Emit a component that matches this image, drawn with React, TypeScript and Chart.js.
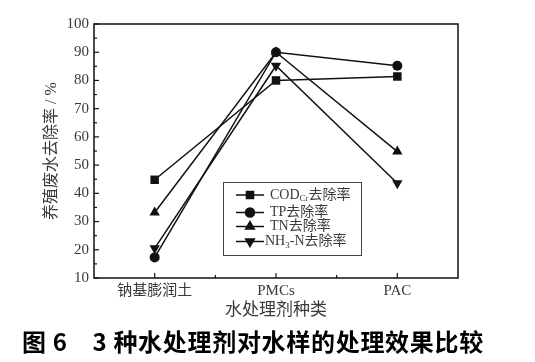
import React, { useEffect, useRef } from 'react';
import { Chart, registerables } from 'chart.js';
import { drawPoint } from 'chart.js/helpers';

Chart.register(...registerables);

const categories = ['钠基膨润土', 'PMCs', 'PAC'];
const codValues = [44.8, 80.0, 81.4];
const tpValues = [17.3, 90.0, 85.2];
const tnValues = [33.2, 90.0, 54.8];
const nh3Values = [20.5, 85.2, 43.6];
const yTicks = [10, 20, 30, 40, 50, 60, 70, 80, 90, 100];
const yTitle = '养殖废水去除率 / %';
const xTitle = '水处理剂种类';
const caption = '图 6　3 种水处理剂对水样的处理效果比较';

// legend entries: [main, subscript, rest]
const legendEntries: [string, string, string][] = [
  ['COD', 'Cr', '去除率'],
  ['TP去除率', '', ''],
  ['TN去除率', '', ''],
  ['NH', '3', '-N去除率'],
];
const pointStyles = ['rect', 'circle', 'triangle', 'triangle'];
const pointRotations = [0, 0, 0, 180];
const pointRadii = [6, 5, 6, 6];

const INK = '#111';
const TEXT = '#3a3a3a';
const SERIF = '"Liberation Serif", "Noto Sans CJK SC", serif';

const overlay = {
  id: 'overlay',
  afterDraw(chart: any) {
    const ctx = chart.ctx;
    const { left, right, top, bottom } = chart.chartArea;
    const xs = chart.scales.x;
    const ys = chart.scales.y;
    ctx.save();
    ctx.strokeStyle = INK;
    ctx.lineWidth = 1.5;
    ctx.strokeRect(left, top, right - left, bottom - top);
    ctx.lineWidth = 1.2;
    // y ticks (inward)
    for (let v = 10; v <= 100; v += 5) {
      const y = ys.getPixelForValue(v);
      const len = v % 10 === 0 ? 5 : 3;
      ctx.beginPath();
      ctx.moveTo(left, y);
      ctx.lineTo(left + len, y);
      ctx.stroke();
    }
    // x ticks (inward)
    for (let i = 0; i < categories.length; i++) {
      const x = xs.getPixelForValue(i);
      ctx.beginPath();
      ctx.moveTo(x, bottom);
      ctx.lineTo(x, bottom - 5);
      ctx.stroke();
      if (i < categories.length - 1) {
        const xm = (x + xs.getPixelForValue(i + 1)) / 2;
        ctx.beginPath();
        ctx.moveTo(xm, bottom);
        ctx.lineTo(xm, bottom - 3);
        ctx.stroke();
      }
    }
    // legend
    const lx = 223, ly = 182, lw = 138, lh = 73;
    ctx.fillStyle = '#fff';
    ctx.fillRect(lx, ly, lw, lh);
    ctx.strokeStyle = '#444';
    ctx.lineWidth = 1;
    ctx.strokeRect(lx + 0.5, ly + 0.5, lw, lh);
    const rowsY = [195, 212.5, 226.5, 241.5];
    legendEntries.forEach((e, i) => {
      const y = rowsY[i];
      ctx.strokeStyle = INK;
      ctx.lineWidth = 1.5;
      ctx.beginPath();
      ctx.moveTo(236, y);
      ctx.lineTo(264, y);
      ctx.stroke();
      ctx.fillStyle = INK;
      drawPoint(ctx, {
        pointStyle: pointStyles[i],
        radius: pointStyles[i] === 'circle' ? 4.5 : 5,
        rotation: pointRotations[i],
        borderWidth: 1,
      } as any, 250, y);
      ctx.fill();
      ctx.fillStyle = TEXT;
      ctx.textBaseline = 'middle';
      ctx.textAlign = 'left';
      let tx = i === 3 ? 265 : 270;
      ctx.font = `14px ${SERIF}`;
      ctx.fillText(e[0], tx, y);
      tx += ctx.measureText(e[0]).width;
      if (e[1]) {
        ctx.font = `9px ${SERIF}`;
        ctx.fillText(e[1], tx, y + 4);
        tx += ctx.measureText(e[1]).width;
        ctx.font = `14px ${SERIF}`;
      }
      if (e[2]) ctx.fillText(e[2], tx, y);
    });
    // caption
    ctx.fillStyle = '#000';
    ctx.font = 'bold 24px "Noto Sans CJK SC", sans-serif';
    try { (ctx as any).letterSpacing = '0.7px'; } catch (err) { /* ignore */ }
    ctx.textAlign = 'left';
    ctx.textBaseline = 'middle';
    ctx.fillText(caption, 22, 342);
    ctx.restore();
  },
};

export default function App() {
  const ref = useRef<HTMLCanvasElement>(null);
  useEffect(() => {
    if (!ref.current) return;
    const series = [codValues, tpValues, tnValues, nh3Values];
    const chart = new Chart(ref.current, {
      type: 'line',
      data: {
        labels: categories,
        datasets: series.map((d, i) => ({
          label: legendEntries[i].join(''),
          data: d,
          borderColor: INK,
          backgroundColor: INK,
          borderWidth: 1.5,
          pointStyle: pointStyles[i] as any,
          pointRotation: pointRotations[i],
          pointRadius: pointRadii[i],
          pointBorderWidth: 0,
          tension: 0,
          clip: false as any,
        })),
      },
      options: {
        responsive: false,
        animation: false,
        devicePixelRatio: 1,
        layout: { padding: { left: 0, right: 77, top: 24, bottom: 36 } },
        plugins: {
          legend: { display: false },
          tooltip: { enabled: false },
          title: { display: false },
        },
        scales: {
          x: {
            type: 'category',
            offset: true,
            grid: { display: false, drawTicks: false },
            border: { display: false },
            ticks: {
              padding: 4,
              color: TEXT,
              font: { size: 15, family: SERIF },
              maxRotation: 0,
            },
            title: {
              display: true,
              text: xTitle,
              color: TEXT,
              font: { size: 17, family: SERIF },
              padding: { top: 0, bottom: 5 },
            },
            afterFit(scale: any) {
              scale.height = 48;
            },
          },
          y: {
            min: 10,
            max: 100,
            afterBuildTicks(scale: any) {
              scale.ticks = yTicks.map((v) => ({ value: v }));
            },
            grid: { display: false, drawTicks: false },
            border: { display: false },
            ticks: {
              padding: 5,
              color: TEXT,
              font: { size: 15, family: SERIF },
            },
            title: {
              display: true,
              text: yTitle,
              color: TEXT,
              font: { size: 16, family: SERIF },
              padding: { top: 42, bottom: 0 },
            },
            afterFit(scale: any) {
              scale.width = 94;
            },
          },
        },
      },
      plugins: [overlay],
    });
    return () => chart.destroy();
  }, []);
  return (
    <div style={{ position: 'absolute', left: 0, top: 0, width: 535, height: 362, background: '#fff' }}>
      <canvas ref={ref} width={535} height={362} style={{ width: 535, height: 362 }} />
    </div>
  );
}
